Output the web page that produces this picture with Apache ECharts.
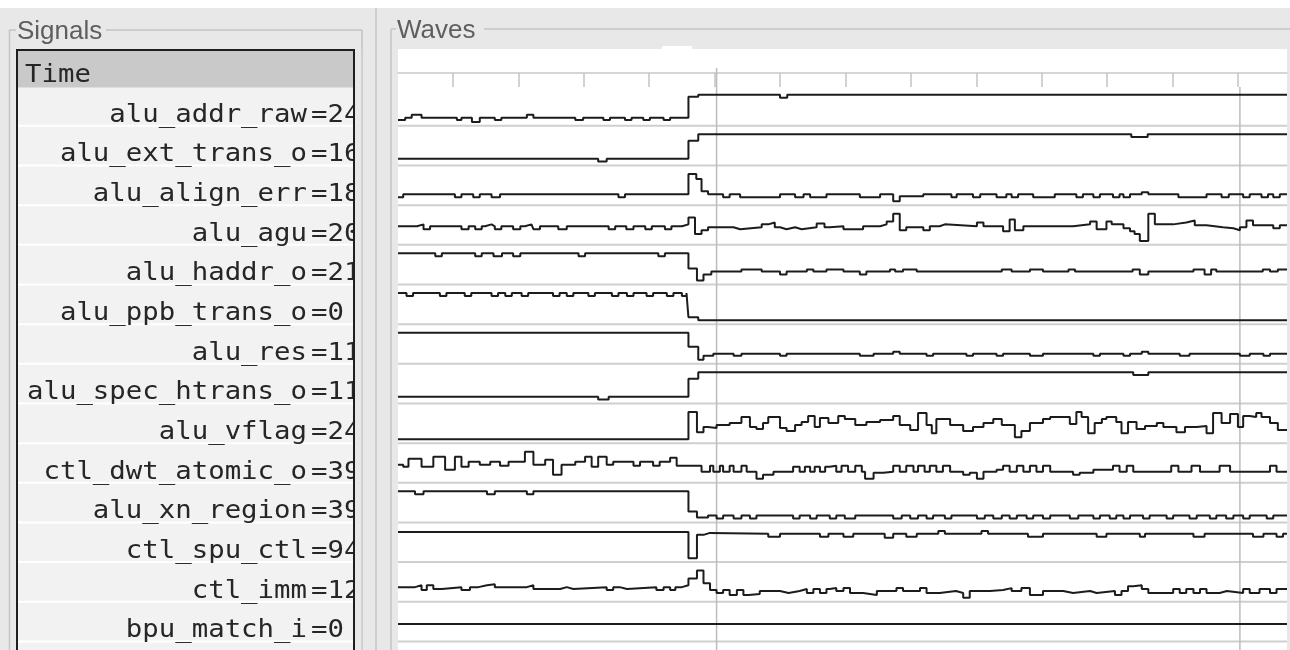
<!DOCTYPE html>
<html><head><meta charset="utf-8">
<script src="https://cdn.jsdelivr.net/npm/echarts@6/dist/echarts.min.js"></script>
<style>html,body{margin:0;padding:0;background:#e8e8e8;}#c{width:1290px;height:650px;}</style>
</head><body><div id="c"></div>
<script>
// ---------------- data ----------------
const tMin = 1.6, tMax = 137.5;
const tickTimes = [10, 20, 30, 40, 50, 60, 70, 80, 90, 100, 110, 120, 130];
const cursorTimes = [50.3, 130.3];
const signalNames = ['alu_addr_raw', 'alu_ext_trans_o', 'alu_align_err', 'alu_agu', 'alu_haddr_o', 'alu_ppb_trans_o', 'alu_res', 'alu_spec_htrans_o', 'alu_vflag', 'ctl_dwt_atomic_o', 'alu_xn_region', 'ctl_spu_ctl', 'ctl_imm', 'bpu_match_i'];
const signalValues = ['24', '16', '18', '20', '21', '0', '11', '11', '24', '39', '39', '94', '12', '0'];

const alu_addr_raw = [[1.6,4],[2.7,6],[3.7,9],[5.2,6],[10.6,4],[11.3,6],[12.9,2],[14.1,6],[16.4,4],[17.4,6],[21.3,9],[22.3,6],[28.7,4],[29.9,6],[33.0,4],[34.0,6],[36.3,4],[37.3,6],[39.1,4],[40.1,6],[42.2,4],[43.2,6],[46.0,27],[47.5,29],[60.0,26],[61.1,29],[137.5,29]];
const alu_ext_trans_o = [[1.6,3],[32.2,0],[33.5,3],[46.0,23],[47.5,30],[113.7,27],[116.2,30],[137.5,30]];
const alu_align_err = [[1.6,4],[2.4,7],[10.3,4],[11.3,7],[13.1,4],[14.1,7],[15.9,4],[17.2,7],[35.3,4],[36.3,7],[46.0,27],[47.2,22],[48.0,10],[49.0,7],[51.3,4],[52.3,7],[53.9,4],[60.0,7],[62.3,4],[63.6,7],[64.6,4],[67.1,7],[72.2,4],[75.3,7],[77.3,0],[78.3,5],[81.9,7],[86.2,4],[87.0,7],[89.5,4],[90.6,7],[93.1,4],[94.6,7],[95.4,4],[96.4,7],[98.7,4],[102.0,7],[105.3,4],[106.3,7],[107.9,4],[108.9,7],[110.9,4],[111.9,7],[112.5,4],[113.5,7],[115.3,9],[116.3,7],[120.9,4],[125.2,7],[127.5,4],[128.6,7],[130.8,4],[131.8,7],[133.6,4],[134.6,7],[135.4,4],[136.4,7],[137.5,7]];
const alu_agu = [[1.6,16],[4.5,18],[5.5,13],[6.5,16],[11.3,13],[12.4,16],[13.4,13],[14.4,16],[14.9,18],[15.9,16],[16.4,13],[17.4,16],[19.2,13],[20.3,16],[21.0,18],[22.0,16],[22.3,13],[23.3,16],[26.1,13],[27.4,16],[33.8,13],[34.8,16],[36.5,13],[37.6,16],[39.4,13],[40.4,16],[42.4,13],[43.4,16],[45.0,18],[46.0,25],[47.0,8],[48.0,12],[49.0,15],[52.9,13],[53.9,15],[57.2,18],[58.2,20],[59.2,15],[60.0,13],[61.0,15],[62.3,13],[63.3,15],[65.6,19],[66.8,15],[67.6,16],[69.7,13],[72.7,16],[75.3,18],[76.3,21],[77.3,29],[78.3,12],[79.3,15],[81.9,12],[82.9,16],[84.4,18],[85.2,16],[90.1,20],[91.1,16],[94.1,11],[95.1,23],[95.9,12],[97.2,16],[104.8,18],[107.4,21],[108.4,13],[109.9,21],[110.7,18],[112.5,14],[113.5,11],[114.2,8],[115.0,1],[116.3,29],[117.3,18],[120.1,20],[122.1,22],[123.4,17],[125.2,15],[127.7,14],[129.3,12],[130.3,15],[131.3,22],[132.3,17],[135.4,14],[136.4,17],[137.5,17]];
const alu_haddr_o = [[1.6,28],[7.3,25],[8.3,28],[13.4,25],[14.4,28],[16.2,25],[17.5,28],[19.2,25],[20.3,28],[29.2,25],[30.2,28],[41.4,25],[42.4,28],[46.0,13],[47.3,1],[48.3,7],[49.5,10],[54.1,12],[57.2,10],[60.0,7],[61.0,10],[64.1,12],[65.1,10],[67.1,12],[69.7,10],[72.2,7],[73.2,10],[76.8,12],[77.6,10],[78.8,12],[80.9,10],[93.9,12],[95.4,10],[98.2,12],[100.2,10],[104.1,12],[105.1,10],[113.9,12],[115.0,7],[116.3,10],[123.2,12],[124.9,7],[125.9,12],[126.7,10],[133.8,12],[134.9,10],[136.1,12],[137.5,12]];
const alu_ppb_trans_o = [[1.6,28],[2.9,25],[3.9,28],[8.0,25],[9.0,28],[11.8,25],[12.8,28],[15.9,25],[16.9,28],[18.0,25],[19.0,28],[20.5,25],[21.5,28],[25.3,25],[26.3,28],[27.4,25],[28.4,28],[30.7,25],[31.7,28],[34.3,25],[35.3,28],[36.6,25],[37.6,28],[39.6,25],[40.6,28],[42.7,25],[43.7,28],[45.0,25],[45.7,28],[46.0,3],[47.5,0],[137.5,0]];
const alu_res = [[1.6,28],[46.0,14],[47.5,1],[48.3,5],[49.8,7],[52.9,5],[54.1,7],[60.0,5],[61.0,7],[72.2,5],[74.3,7],[77.3,9],[78.3,7],[82.4,5],[83.4,7],[88.5,5],[89.5,7],[93.1,5],[94.1,7],[98.2,5],[100.2,7],[107.9,5],[108.9,7],[112.5,5],[113.5,7],[115.3,9],[116.3,7],[121.1,5],[122.6,7],[130.3,5],[131.8,7],[133.9,5],[134.9,7],[137.5,7]];
const alu_spec_htrans_o = [[1.6,3],[32.2,0],[33.8,3],[46.0,23],[47.5,30],[114.0,27],[116.3,30],[137.5,30]];
const alu_vflag = [[1.6,1],[46.0,28],[47.3,8],[48.3,13],[49.0,12],[50.3,15],[52.3,17],[54.1,23],[55.4,13],[56.4,11],[57.4,17],[58.2,23],[60.0,12],[61.0,9],[62.3,15],[63.3,18],[64.3,24],[65.3,13],[66.1,22],[67.4,17],[68.9,24],[69.9,21],[71.5,15],[73.2,18],[75.3,20],[77.3,24],[78.3,15],[79.9,10],[81.1,27],[82.4,15],[83.2,7],[83.9,21],[86.0,15],[88.0,9],[89.5,13],[91.1,17],[92.6,21],[93.9,15],[95.9,3],[96.9,9],[98.2,17],[100.2,21],[101.3,23],[104.3,16],[105.3,28],[106.1,23],[107.1,7],[108.1,17],[109.2,21],[109.9,23],[111.4,18],[112.2,7],[113.2,18],[114.5,11],[115.8,14],[117.6,17],[118.6,13],[120.6,8],[121.9,13],[123.7,14],[125.2,7],[126.2,27],[127.5,17],[128.8,26],[130.0,13],[130.8,24],[131.8,23],[132.8,27],[133.6,23],[134.9,17],[136.1,10],[137.5,10]];
const ctl_dwt_atomic_o = [[1.6,15],[2.4,13],[3.2,21],[5.2,13],[7.0,23],[8.8,10],[10.3,23],[11.3,13],[12.4,18],[14.1,15],[15.7,18],[17.2,14],[18.5,18],[21.0,28],[22.3,15],[24.1,20],[25.3,5],[26.6,15],[28.7,18],[30.2,23],[31.2,13],[32.2,23],[33.5,15],[34.5,18],[37.6,14],[38.6,18],[40.6,14],[41.6,18],[43.2,22],[44.2,14],[48.0,8],[49.3,14],[49.8,8],[50.8,14],[51.3,8],[52.3,14],[52.9,8],[54.1,14],[54.9,8],[56.4,1],[57.4,5],[59.0,8],[62.0,13],[63.0,8],[63.8,13],[64.6,8],[65.3,13],[66.1,8],[66.9,13],[67.6,14],[68.6,8],[69.4,14],[70.4,8],[71.5,14],[72.5,8],[73.0,1],[74.3,7],[75.8,8],[77.3,14],[78.3,8],[79.3,14],[80.4,8],[81.1,14],[82.1,8],[82.9,14],[83.9,8],[84.9,14],[86.0,8],[88.0,5],[89.0,7],[90.1,1],[91.1,8],[93.1,10],[94.1,14],[95.1,8],[96.2,14],[97.2,8],[98.2,14],[99.2,8],[100.2,14],[101.3,8],[104.8,5],[105.8,7],[107.9,10],[110.9,14],[111.9,8],[113.0,14],[114.0,8],[119.8,14],[120.9,8],[122.9,14],[124.2,8],[127.2,14],[128.8,8],[134.9,14],[135.9,8],[137.5,8]];
const alu_xn_region = [[1.6,28],[4.2,25],[5.5,28],[15.2,25],[16.4,28],[21.3,25],[22.3,28],[46.0,8],[47.3,2],[49.0,4],[50.3,1],[51.3,4],[52.9,1],[54.1,4],[55.4,1],[56.4,4],[62.0,1],[63.0,4],[64.6,1],[65.6,4],[67.6,1],[68.6,4],[69.9,1],[71.5,4],[77.3,1],[78.6,4],[79.9,1],[81.1,4],[82.4,1],[83.4,4],[85.2,1],[86.2,4],[90.1,1],[91.3,4],[92.6,1],[93.9,4],[95.1,1],[96.2,4],[97.7,1],[98.7,4],[100.2,1],[101.3,4],[104.3,1],[105.6,4],[107.9,1],[108.9,4],[110.4,1],[111.4,4],[112.5,1],[113.5,4],[115.5,1],[116.5,4],[119.1,1],[120.1,4],[122.6,1],[123.7,4],[125.7,1],[126.7,4],[128.2,1],[129.3,4],[130.8,1],[131.8,4],[134.4,1],[135.4,4],[137.5,4]];
const ctl_spu_ctl = [[1.6,28],[46.0,1],[47.3,25],[48.3,27],[49.3,26],[58.2,23],[60.0,26],[66.1,23],[67.4,26],[69.7,23],[71.2,26],[76.0,22],[77.3,26],[79.3,23],[80.9,26],[84.2,29],[85.2,26],[90.8,29],[91.8,26],[97.9,23],[100.2,26],[108.4,23],[109.9,26],[115.0,23],[115.8,26],[123.2,23],[124.9,26],[132.3,23],[133.9,26],[135.9,23],[136.9,26],[137.5,26]];
const ctl_imm = [[1.6,12],[4.2,14],[5.2,9],[6.0,14],[7.0,10],[8.3,12],[11.3,9],[12.6,12],[13.9,14],[15.2,15],[16.4,12],[21.3,14],[22.3,10],[26.4,12],[27.4,10],[28.4,12],[33.5,9],[34.5,12],[35.5,10],[36.6,12],[41.1,9],[42.2,12],[43.2,9],[44.0,12],[45.0,14],[46.0,21],[47.3,29],[48.3,16],[49.3,9],[50.3,6],[51.3,9],[52.3,4],[53.4,9],[54.4,4],[55.2,5],[56.9,8],[60.0,6],[61.3,8],[63.0,10],[64.1,6],[65.1,10],[66.1,6],[67.1,10],[67.6,11],[68.6,8],[69.7,11],[70.7,6],[72.7,4],[74.8,8],[77.8,11],[78.8,8],[81.4,11],[82.4,6],[84.4,8],[86.9,6],[88.0,1],[89.0,8],[92.1,9],[94.1,11],[95.4,8],[96.9,11],[98.2,4],[100.2,8],[103.3,6],[104.8,8],[107.4,6],[108.4,8],[111.2,4],[112.2,8],[113.2,13],[114.0,14],[115.3,10],[116.3,6],[120.1,10],[121.1,6],[122.1,10],[123.2,6],[124.2,10],[125.2,6],[127.2,8],[128.3,6],[130.8,10],[131.8,6],[133.3,10],[134.9,6],[135.9,10],[137.5,10]];
const bpu_match_i = [[1.6,0],[137.5,0]];

const waveData = [alu_addr_raw, alu_ext_trans_o, alu_align_err, alu_agu, alu_haddr_o, alu_ppb_trans_o, alu_res, alu_spec_htrans_o, alu_vflag, ctl_dwt_atomic_o, alu_xn_region, ctl_spu_ctl, ctl_imm, bpu_match_i];

// ---------------- layout / style ----------------
const BG = '#e8e8e8';
const ROW0 = 86.2, ROWH = 39.66;
const WL = 398, WW = 889;
const MONO = '24px "DejaVu Sans Mono"';
const SANS = '26px "Liberation Sans"';
const MONO_SX = 1.14;
const FRAME = '#c4c4c4';

function gLine(x1, y1, x2, y2, stroke, w, z) {
  return {type: 'line', silent: true, z: z || 0, shape: {x1, y1, x2, y2}, style: {stroke, lineWidth: w}};
}
function gRect(x, y, w, h, fill, z, stroke, lw) {
  return {type: 'rect', silent: true, z: z || 0, shape: {x, y, width: w, height: h}, style: {fill, stroke: stroke || null, lineWidth: lw || 0}};
}
function gText(x, y, str, font, fill, align, sx, z) {
  return {type: 'text', silent: true, z: z || 1, x, y, scaleX: sx || 1,
    style: {text: str, font, fill, textAlign: align, align: align, textVerticalAlign: 'middle', verticalAlign: 'middle'}};
}

const graphics = [];
graphics.push(gRect(0, 0, 1290, 8, '#ffffff', 0));
// Signals frame
graphics.push(gLine(9.5, 30, 9.5, 650, FRAME, 1.5));
graphics.push(gLine(9.5, 30, 16, 30, FRAME, 1.5));
graphics.push(gLine(106, 30, 362, 30, FRAME, 1.5));
graphics.push(gLine(362, 30, 362, 650, FRAME, 1.5));
graphics.push(gText(17, 32, 'Signals', SANS, '#5e5e5e', 'left', 1, 1));
// pane handle
graphics.push(gLine(376, 8, 376, 650, '#cfcfcf', 2));
// Waves frame
graphics.push(gLine(391, 29, 391, 650, FRAME, 1.5));
graphics.push(gLine(391, 29, 396, 29, FRAME, 1.5));
graphics.push(gLine(484, 29, 1290, 29, FRAME, 1.5));
graphics.push(gText(397, 31, 'Waves', SANS, '#5e5e5e', 'left', 1, 1));
// signal list box
graphics.push(gRect(17, 50, 337, 610, '#f2f2f2', 0, '#1e1e1e', 2));
graphics.push(gRect(18, 51, 335, 36.5, '#c9c9c9', 0));
for (let i = 1; i <= 14; i++) {
  const y = ROW0 + i * ROWH;
  graphics.push(gLine(18, y, 353, y, '#ffffff', 2, 0));
}
graphics.push(gText(25, 76, 'Time', MONO, '#262626', 'left', MONO_SX, 1));
signalNames.forEach((name, i) => {
  const y = ROW0 + i * ROWH + 29.3;
  graphics.push(gText(307, y, name, MONO, '#262626', 'right', MONO_SX, 1));
  graphics.push(gText(311, y, '=' + signalValues[i], MONO, '#262626', 'left', MONO_SX, 1));
});
graphics.push(gRect(355, 50, 6.2, 600, BG, 2));
graphics.push(gLine(354, 50, 354, 650, '#1e1e1e', 2, 3));
// waves canvas
graphics.push(gRect(WL, 49, WW, 601, '#ffffff', 0));
graphics.push(gRect(662, 46, 30, 3, '#ffffff', 0));
for (let i = 1; i <= 14; i++) {
  const y = ROW0 + i * ROWH;
  graphics.push(gLine(WL, y, WL + WW, y, '#cfcfcf', 2, 1));
}

// ---------------- chart ----------------
const grids = [], xAxes = [], yAxes = [], series = [];
// timeline
grids.push({left: WL, width: WW, top: 73, height: 14});
xAxes.push({gridIndex: 0, type: 'value', min: tMin, max: tMax, position: 'top', z: 3,
  axisLine: {show: true, onZero: false, lineStyle: {color: '#c8c8c8', width: 1.5}},
  axisTick: {show: true, inside: true, length: 14, customValues: tickTimes, lineStyle: {color: '#c4c4c4', width: 1.5}},
  axisLabel: {show: false}, splitLine: {show: false}});
yAxes.push({gridIndex: 0, type: 'value', show: false, min: 0, max: 1});
// cursors
const cursorTops = [68, 87];
cursorTimes.forEach((t, k) => {
  const gi = grids.length;
  grids.push({left: WL, width: WW, top: cursorTops[k], bottom: 0});
  xAxes.push({gridIndex: gi, type: 'value', min: tMin, max: tMax, show: false});
  yAxes.push({gridIndex: gi, type: 'value', min: 0, max: 1, show: false});
  series.push({type: 'line', xAxisIndex: gi, yAxisIndex: gi, data: [[t, 0], [t, 1]], symbol: 'none', silent: true, z: 3,
    lineStyle: {color: '#bcbcbc', width: 1.5}, animation: false});
});
// waves
waveData.forEach((data, i) => {
  const gi = grids.length;
  grids.push({left: WL, width: WW, top: ROW0 + i * ROWH + 8.5, height: 27.2});
  let mn = Infinity, mx = -Infinity;
  data.forEach(p => { mn = Math.min(mn, p[1]); mx = Math.max(mx, p[1]); });
  if (mn === mx) { mn -= 1; mx += 1; }
  xAxes.push({gridIndex: gi, type: 'value', min: tMin, max: tMax, show: false});
  yAxes.push({gridIndex: gi, type: 'value', min: mn, max: mx, show: false});
  series.push({type: 'line', name: signalNames[i], xAxisIndex: gi, yAxisIndex: gi, data, step: 'end',
    symbol: 'none', showSymbol: false, clip: false, silent: true, z: 5,
    lineStyle: {color: '#1c1c1c', width: 2}, animation: false});
});

const chart = echarts.init(document.getElementById('c'), null, {renderer: 'canvas'});
chart.setOption({
  backgroundColor: BG,
  animation: false,
  grid: grids, xAxis: xAxes, yAxis: yAxes, series,
  graphic: {elements: graphics}
});
</script>
</body></html>
